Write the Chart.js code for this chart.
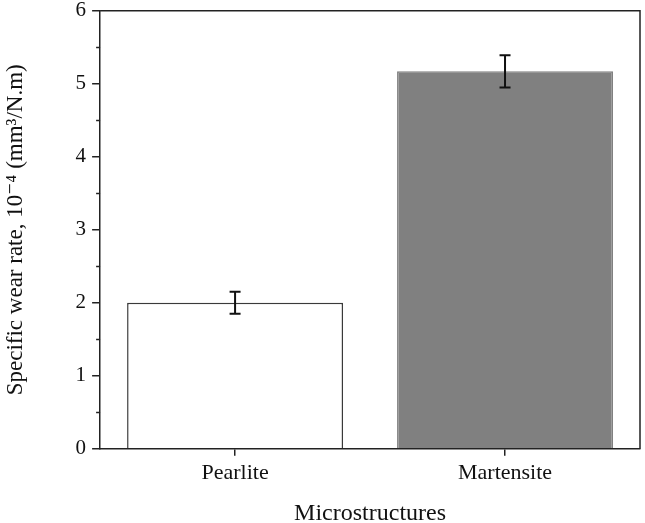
<!DOCTYPE html>
<html>
<head>
<meta charset="utf-8">
<script src="https://cdn.jsdelivr.net/npm/chart.js@4.4.0/dist/chart.umd.min.js"></script>
<style>
  html, body { margin: 0; padding: 0; background: #fff; }
  #wrap { width: 645px; height: 523px; }
</style>
</head>
<body>
<div id="wrap"><canvas id="wearChart" width="645" height="523"></canvas></div>
<script>
// data
const categories = ['Pearlite', 'Martensite'];
const wearRate = [2.0, 5.17];
const wearError = [0.15, 0.22];
const barColors = ['#ffffff', '#808080'];
const barBorders = ['#3a3a3a', '#808080'];
const yTicks = [0, 1, 2, 3, 4, 5, 6];

const axisColor = '#222';
const serif = "'Liberation Serif', 'DejaVu Serif', serif";

// error bars, minor ticks and the closed frame
const extras = {
    id: 'extras',
    afterDatasetsDraw(chart) {
        const ctx = chart.ctx;
        const y = chart.scales.y;
        const area = chart.chartArea;
        const meta = chart.getDatasetMeta(0);
        ctx.save();
        ctx.strokeStyle = '#111';
        ctx.lineWidth = 2;
        meta.data.forEach((bar, i) => {
            const top = y.getPixelForValue(wearRate[i] + wearError[i]);
            const bot = y.getPixelForValue(wearRate[i] - wearError[i]);
            ctx.beginPath();
            ctx.moveTo(bar.x, top); ctx.lineTo(bar.x, bot);
            ctx.moveTo(bar.x - 5.5, top); ctx.lineTo(bar.x + 5.5, top);
            ctx.moveTo(bar.x - 5.5, bot); ctx.lineTo(bar.x + 5.5, bot);
            ctx.stroke();
        });
        // minor ticks at half steps
        ctx.strokeStyle = axisColor;
        ctx.lineWidth = 1.5;
        for (let v = 0.5; v < 6; v += 1) {
            const py = Math.round(y.getPixelForValue(v)) + 0.5;
            ctx.beginPath();
            ctx.moveTo(area.left - 4, py); ctx.lineTo(area.left, py);
            ctx.stroke();
        }
        // top and right spines
        ctx.lineWidth = 1.5;
        ctx.beginPath();
        ctx.moveTo(area.left, area.top);
        ctx.lineTo(area.right, area.top);
        ctx.lineTo(area.right, area.bottom);
        ctx.stroke();
        ctx.restore();
    }
};

const ctxWear = document.getElementById('wearChart').getContext('2d');
const wearChart = new Chart(ctxWear, {
    type: 'bar',
    data: {
        labels: categories,
        datasets: [{
            label: 'Specific wear rate',
            data: wearRate,
            backgroundColor: barColors,
            borderColor: barBorders,
            borderWidth: 1.5,
            categoryPercentage: 0.8,
            barPercentage: 1.0
        }]
    },
    options: {
        responsive: false,
        animation: false,
        layout: { padding: { top: 0, right: 5, left: 2, bottom: -5 } },
        plugins: {
            legend: { display: false },
            tooltip: { enabled: false }
        },
        scales: {
            x: {
                grid: {
                    display: true,
                    offset: false,
                    drawOnChartArea: false,
                    drawTicks: true,
                    tickLength: 7,
                    color: axisColor,
                    lineWidth: 1.5
                },
                border: { display: true, color: axisColor, width: 1.5 },
                ticks: {
                    color: '#111',
                    padding: 4,
                    font: { family: serif, size: 22 }
                },
                title: {
                    display: true,
                    text: 'Microstructures',
                    color: '#111',
                    padding: { top: 9, bottom: 0 },
                    font: { family: serif, size: 24 }
                }
            },
            y: {
                min: 0,
                max: 6,
                afterBuildTicks: (axis) => {
                    axis.ticks = yTicks.map(v => ({ value: v }));
                },
                grid: {
                    display: true,
                    drawOnChartArea: false,
                    drawTicks: true,
                    tickLength: 8,
                    color: axisColor,
                    lineWidth: 1.5
                },
                border: { display: true, color: axisColor, width: 1.5 },
                ticks: {
                    color: '#111',
                    padding: 6,
                    font: { family: serif, size: 21, lineHeight: 0.45 }
                },
                title: {
                    display: true,
                    text: 'Specific wear rate, 10⁻⁴ (mm³/N.m)',
                    color: '#111',
                    padding: { top: 0, bottom: 40 },
                    font: { family: serif, size: 23 }
                }
            }
        }
    },
    plugins: [extras]
});
</script>
</body>
</html>
